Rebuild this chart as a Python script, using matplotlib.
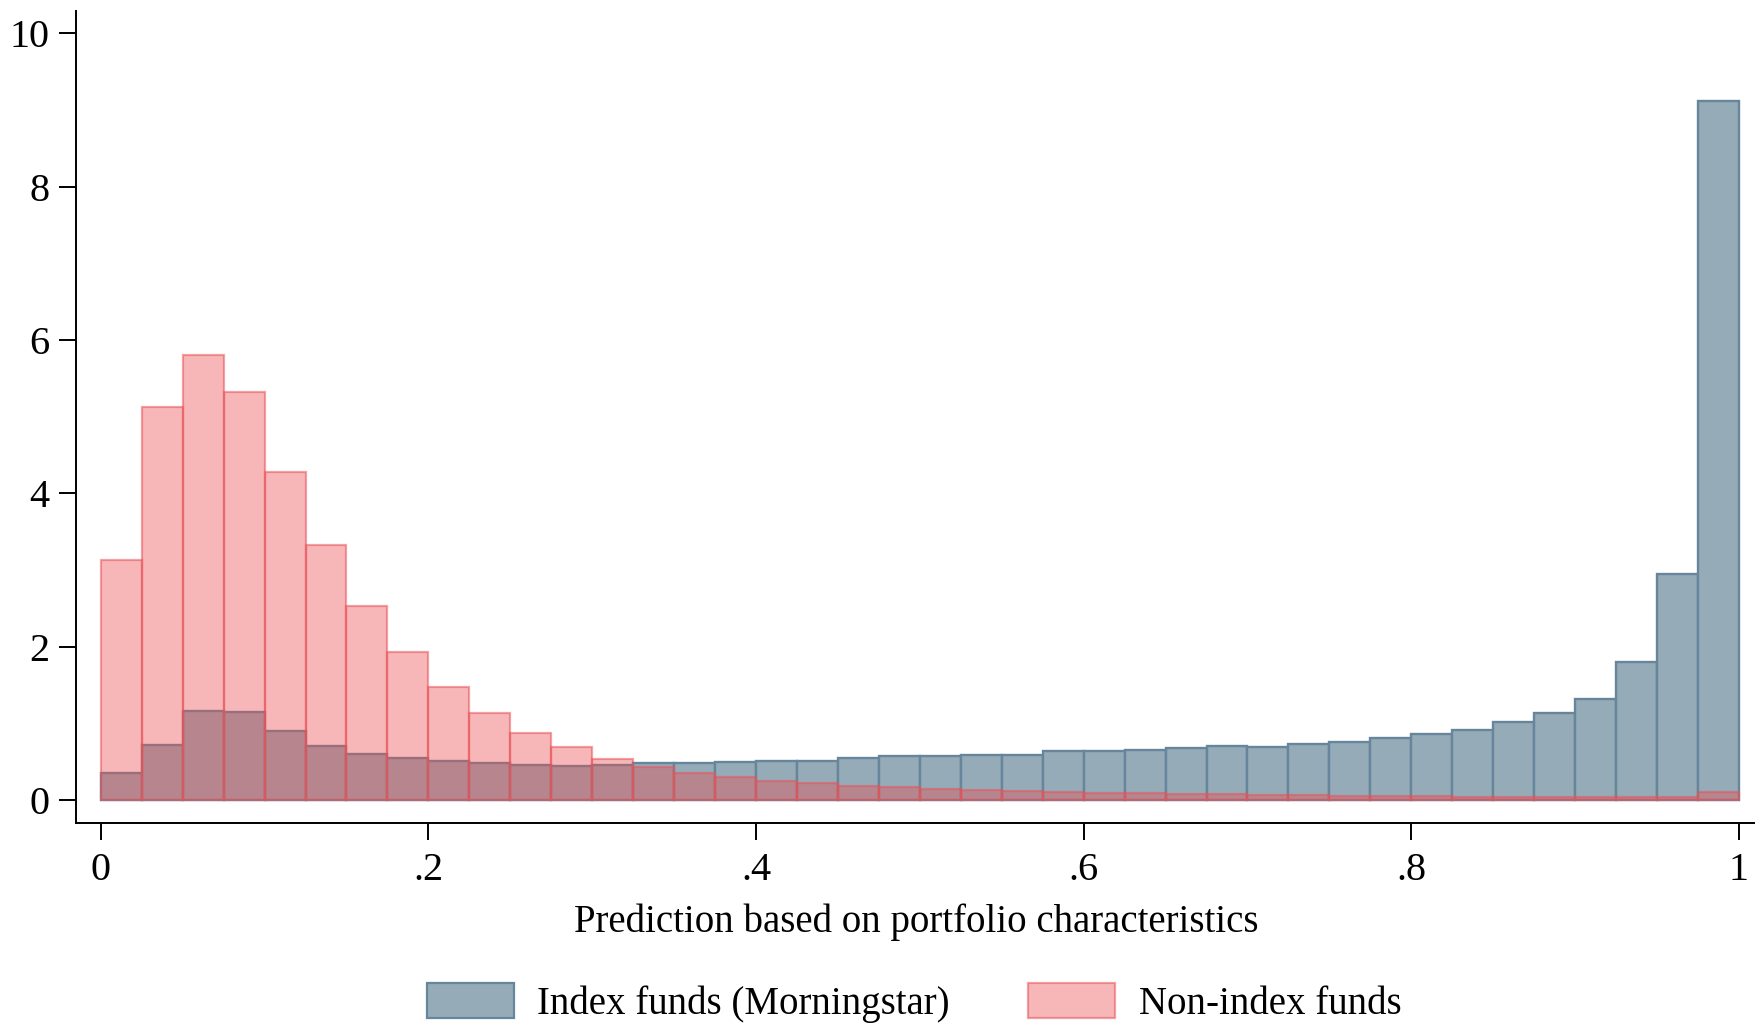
import numpy as np
import matplotlib
matplotlib.use("Agg")
import matplotlib.pyplot as plt
from matplotlib.patches import Patch

# Histogram densities, 40 bins of width 0.025 on [0, 1]
bin_edges = np.linspace(0.0, 1.0, 41)

index_density = [
    0.357, 0.717, 1.165, 1.152, 0.896, 0.709, 0.600, 0.548, 0.513, 0.483,
    0.457, 0.439, 0.457, 0.485, 0.478, 0.500, 0.513, 0.513, 0.552, 0.574,
    0.574, 0.587, 0.591, 0.639, 0.639, 0.650, 0.675, 0.700, 0.690, 0.730,
    0.756, 0.808, 0.867, 0.913, 1.020, 1.130, 1.320, 1.800, 2.950, 9.110,
]

nonindex_density = [
    3.130, 5.130, 5.800, 5.320, 4.280, 3.330, 2.530, 1.930, 1.480, 1.130,
    0.880, 0.687, 0.540, 0.426, 0.350, 0.300, 0.252, 0.217, 0.187, 0.170,
    0.148, 0.126, 0.117, 0.104, 0.096, 0.087, 0.078, 0.072, 0.066, 0.060,
    0.056, 0.052, 0.048, 0.045, 0.042, 0.040, 0.038, 0.036, 0.040, 0.100,
]

x_ticks = [0, 0.2, 0.4, 0.6, 0.8, 1.0]
x_ticklabels = ["0", ".2", ".4", ".6", ".8", "1"]
y_ticks = [0, 2, 4, 6, 8, 10]
y_ticklabels = ["0", "2", "4", "6", "8", "10"]

x_title = "Prediction based on portfolio characteristics"
series_names = ["Index funds (Morningstar)", "Non-index funds"]

plt.rcParams["font.family"] = ["Liberation Serif", "DejaVu Serif"]

blue_face = "#95abb8"
blue_edge = "#67869b"
pink_face = (235 / 255, 76 / 255, 78 / 255, 0.40)
pink_edge = (232 / 255, 84 / 255, 90 / 255, 0.55)

W, H = 1756, 1023
fig = plt.figure(figsize=(W / 100, H / 100), dpi=100)
left_px, right_px, top_px, bottom_px = 76, 1756, 11, 823
ax = fig.add_axes([left_px / W, 1 - bottom_px / H,
                   (right_px - left_px) / W, (bottom_px - top_px) / H])

lefts = bin_edges[:-1]
widths = np.diff(bin_edges)

ax.bar(lefts, index_density, width=widths, align="edge",
       facecolor=blue_face, edgecolor=blue_edge, linewidth=1.7, zorder=2)
ax.bar(lefts, nonindex_density, width=widths, align="edge",
       facecolor=pink_face, edgecolor=pink_edge, linewidth=1.6, zorder=3)

ax.set_xlim(-0.0151, 1.0104)
ax.set_ylim(-0.30, 10.29)

ax.set_xticks(x_ticks)
ax.set_xticklabels(x_ticklabels)
ax.set_yticks(y_ticks)
ax.set_yticklabels(y_ticklabels)

for s in ["top", "right"]:
    ax.spines[s].set_visible(False)
for s in ["left", "bottom"]:
    ax.spines[s].set_linewidth(1.4)
    ax.spines[s].set_color("black")

ax.tick_params(axis="both", which="major", length=12, width=1.4,
               labelsize=29, color="black", labelcolor="black")
ax.tick_params(axis="x", pad=9)
ax.tick_params(axis="y", pad=7)

ax.set_xlabel(x_title, fontsize=28, labelpad=10)

handles = [
    Patch(facecolor=blue_face, edgecolor=blue_edge, linewidth=1.6),
    Patch(facecolor=pink_face, edgecolor=pink_edge, linewidth=1.6),
]
fig.legend(handles, series_names, loc="center", ncol=2,
           bbox_to_anchor=(0.5205, 0.0196), frameon=False, fontsize=28,
           handlelength=2.25, handleheight=0.98, handletextpad=0.6,
           columnspacing=2.0, borderpad=0.0, borderaxespad=0.0)

fig.savefig("out.png", dpi=100, facecolor="white")
